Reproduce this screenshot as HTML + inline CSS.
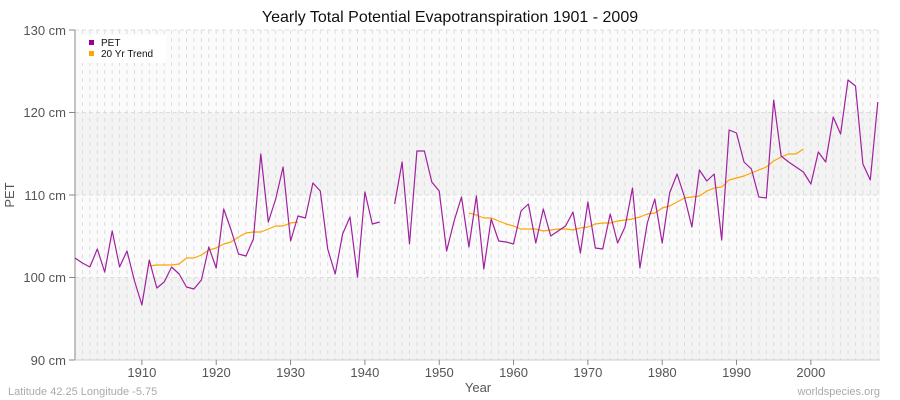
<!DOCTYPE html>
<html><head><meta charset="utf-8"><style>
body{margin:0;background:#fff;}
svg{display:block;font-family:"Liberation Sans","DejaVu Sans",sans-serif;}
</style></head><body>
<svg id="s" width="900" height="400" xmlns="http://www.w3.org/2000/svg">
<rect x="0" y="0" width="900" height="400" fill="#fff"/>
<rect x="75" y="30" width="805" height="82.5" fill="#fbfbfb"/>
<rect x="75" y="112.5" width="805" height="82.5" fill="#f3f3f3"/>
<rect x="75" y="195" width="805" height="82.5" fill="#fbfbfb"/>
<rect x="75" y="277.5" width="805" height="82.5" fill="#f3f3f3"/>
<g id="vg" stroke="#dddddd" stroke-width="1" stroke-dasharray="4,4"></g>
<g stroke="#dddddd" stroke-width="1" stroke-dasharray="4,3">
<line x1="75" x2="880" y1="112.5" y2="112.5"/><line x1="75" x2="880" y1="195" y2="195"/><line x1="75" x2="880" y1="277.5" y2="277.5"/><line x1="75" x2="880" y1="30" y2="30"/>
</g>
<line x1="75" y1="30" x2="75" y2="360" stroke="#888"/>
<line x1="75" y1="360" x2="880" y2="360" stroke="#ccc"/>
<g stroke="#888"><line x1="69" x2="75" y1="30" y2="30"/><line x1="69" x2="75" y1="112.5" y2="112.5"/><line x1="69" x2="75" y1="195" y2="195"/><line x1="69" x2="75" y1="277.5" y2="277.5"/><line x1="69" x2="75" y1="360" y2="360"/></g>
<g font-size="13" fill="#555" text-anchor="end">
<text x="66" y="35">130 cm</text><text x="66" y="117">120 cm</text><text x="66" y="200">110 cm</text><text x="66" y="282">100 cm</text><text x="66" y="365">90 cm</text>
</g>
<g id="xl" font-size="13" fill="#555" text-anchor="middle"></g>
<text x="450" y="22" font-size="16" text-anchor="middle" fill="#111">Yearly Total Potential Evapotranspiration 1901 - 2009</text>
<text x="478" y="392" font-size="13" text-anchor="middle" fill="#555">Year</text>
<text x="14" y="195" font-size="13" text-anchor="middle" fill="#555" transform="rotate(-90 14 195)">PET</text>
<text x="8" y="395" font-size="11" fill="#aaa">Latitude 42.25 Longitude -5.75</text>
<text x="880" y="395" font-size="11" fill="#aaa" text-anchor="end">worldspecies.org</text>
<rect x="80" y="35" width="86" height="28" fill="#fff"/>
<rect x="89" y="40" width="5" height="5" fill="#990099"/>
<text x="101" y="46" font-size="10" fill="#111">PET</text>
<rect x="89" y="51" width="5" height="5" fill="#ffa500"/>
<text x="101" y="57" font-size="10" fill="#111">20 Yr Trend</text>
<g id="ln" fill="none" stroke-linejoin="round"></g>
</svg>
<script>
var X=function(y){return 75+(y-1901)*7.433;};
var vg=document.getElementById('vg'),xl=document.getElementById('xl'),NS='http://www.w3.org/2000/svg';
for(var y=1901;y<=2009;y++){var l=document.createElementNS(NS,'line');l.setAttribute('x1',X(y));l.setAttribute('x2',X(y));l.setAttribute('y1',30);l.setAttribute('y2',360);vg.appendChild(l);}
for(var y=1910;y<=2000;y+=10){var t=document.createElementNS(NS,'text');t.setAttribute('x',X(y));t.setAttribute('y',377);t.textContent=y;xl.appendChild(t);
var k=document.createElementNS(NS,'line');k.setAttribute('x1',X(y));k.setAttribute('x2',X(y));k.setAttribute('y1',360);k.setAttribute('y2',365);k.setAttribute('stroke','#888');document.getElementById('s').appendChild(k);}
var p=[258,263,267,249,272,231,267,251,281,305,260,288,282,267,274,287,289,280,247,268,209,230,254,256,239,154,222,199,167,241,216,218,183,191,249,274,234,217,277,192,224,222,null,204,162,244,151,151,182,191,251,221,197,247,196,269,219,241,242,244,211,204,243,209,236,231,226,212,253,202,248,249,214,243,227,188,268,223,199,243,193,174,197,227,170,181,174,240,130,133,162,169,197,198,100,156,162,167,172,184,152,162,117,134,80,86,164,180,102];
var t1=[266,265,265,265,264,258,258,255,250,248,244,242,237,233,232,232,229,226,226,223,222];
var t2=[213,215,218,218,221,224,226,229,229,229,231,230,229,229,230,228,227,224,223,223,221,220,219,217,214,213,208,206,202,198,197,196,191,188,187,180,178,176,173,170,167,161,157,154,154,149];
var ln=document.getElementById('ln');
function poly(arr,start,col,w){var pts=[];function flush(){if(pts.length>1){var e=document.createElementNS(NS,'polyline');e.setAttribute('points',pts.join(' '));e.setAttribute('stroke',col);e.setAttribute('stroke-width',w);ln.appendChild(e);}pts=[];}
for(var i=0;i<arr.length;i++){if(arr[i]==null){flush();continue;}pts.push(X(start+i).toFixed(1)+','+arr[i]);}flush();}
poly(t1,1911,'#ffa500',1.2);poly(t2,1954,'#ffa500',1.2);poly(p,1901,'#a020a0',1.2);
</script>
</body></html>
